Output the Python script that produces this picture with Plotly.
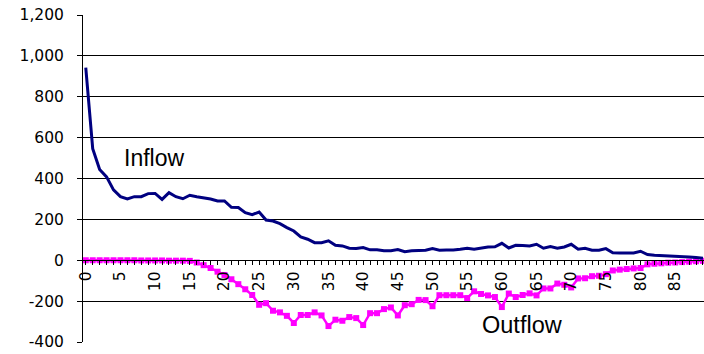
import plotly.graph_objects as go

days = list(range(90))

inflow = [943, 546, 444, 408, 344, 311, 300, 311, 311, 326, 327, 298, 331, 311, 301, 318,
          311, 306, 300, 290, 290, 259, 258, 233, 223, 236, 197, 192, 179, 160, 143, 114,
          103, 86, 86, 95, 73, 70, 59, 57, 62, 51, 51, 47, 47, 52, 42, 46, 46, 49, 57, 49,
          50, 50, 54, 59, 54, 60, 65, 66, 83, 60, 73, 72, 70, 78, 59, 67, 59, 65, 78, 54,
          59, 49, 49, 57, 37, 36, 36, 36, 44, 28, 24, 23, 21, 21, 18, 16, 13, 10]

outflow = [0, 0, 0, 0, 0, 0, 0, 0, -1, -1, -1, -1, -2, -2, -2, -3, -11, -24, -38, -56,
           -72, -93, -117, -142, -170, -218, -210, -247, -255, -272, -307, -268, -268, -255,
           -270, -322, -291, -296, -278, -283, -317, -259, -259, -239, -231, -270, -220, -215,
           -194, -195, -225, -171, -171, -171, -171, -185, -152, -165, -172, -180, -229, -163,
           -180, -170, -162, -172, -138, -138, -114, -120, -133, -89, -88, -78, -76, -68, -50,
           -46, -43, -40, -38, -20, -17, -15, -12, -11, -9, -7, -5, -3]

y_ticks = list(range(-400, 1201, 200))
y_labels = [f"{v:,}" for v in y_ticks]
x_ticks = list(range(0, 91, 5))

FONT = "Liberation Sans, Arial, sans-serif"
TICKFONT = dict(family="DejaVu Sans, Verdana, sans-serif", size=15.5, color="black")

fig = go.Figure()
fig.add_trace(go.Scatter(
    x=days, y=outflow, mode="lines+markers", name="Outflow",
    line=dict(color="#FF00FF", width=2.5),
    marker=dict(symbol="square", size=6, color="#FF00FF"),
    showlegend=False))
fig.add_trace(go.Scatter(
    x=days, y=inflow, mode="lines", name="Inflow",
    line=dict(color="#000080", width=3),
    showlegend=False))

fig.add_annotation(x=5.2, y=498, text="Inflow", showarrow=False, xanchor="left",
                   font=dict(family=FONT, size=23, color="black"))
fig.add_annotation(x=56.9, y=-318, text="Outflow", showarrow=False, xanchor="left",
                   font=dict(family=FONT, size=23.5, color="black"))

fig.update_layout(
    width=704, height=354,
    margin=dict(l=83, r=0, t=15, b=12),
    plot_bgcolor="white", paper_bgcolor="white",
    font=dict(family=FONT, size=16, color="black"),
)
fig.update_yaxes(
    range=[-400, 1200], tickvals=y_ticks, ticktext=y_labels, tickfont=TICKFONT,
    showgrid=True, gridcolor="black", gridwidth=1,
    showline=True, linecolor="black", linewidth=1,
    ticks="outside", ticklen=5, tickcolor="black",
    zeroline=False, ticklabelstandoff=10, automargin=False,
)
fig.update_xaxes(
    range=[-0.4, 89.15], anchor="free", position=0.25,
    tickvals=x_ticks, tickangle=-90, tickfont=TICKFONT,
    ticks="outside", ticklen=4, tickcolor="black",
    showline=True, linecolor="black", linewidth=1,
    showgrid=False, zeroline=False, automargin=False,
    minor=dict(dtick=1, tick0=0, ticks="outside", ticklen=4, tickcolor="black", showgrid=False),
)

fig.write_html("out.html", config={"displayModeBar": False},
               post_script="document.body.style.margin='0';document.body.style.overflow='hidden';")
